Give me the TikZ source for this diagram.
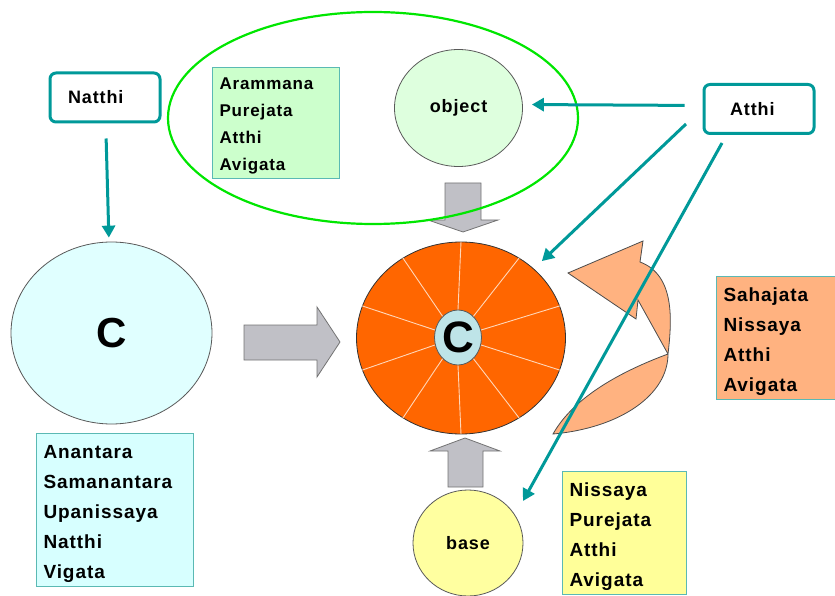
\documentclass[tikz,border=0pt]{standalone}
\usepackage{fontspec}
\setmainfont{Liberation Sans}[LetterSpace=5]
\usetikzlibrary{shapes.geometric,arrows.meta}
\definecolor{tealline}{RGB}{0,153,153}
\definecolor{ringgreen}{RGB}{0,230,0}
\definecolor{objfill}{RGB}{222,255,222}
\definecolor{greenbox}{RGB}{204,255,204}
\definecolor{boxline}{RGB}{90,185,180}
\definecolor{cyanfill}{RGB}{224,255,255}
\definecolor{cyanbox}{RGB}{215,255,255}
\definecolor{grayarrow}{RGB}{192,192,198}
\definecolor{wheelorange}{RGB}{255,102,0}
\definecolor{spoke}{RGB}{255,215,185}
\definecolor{corefill}{RGB}{190,228,232}
\definecolor{basefill}{RGB}{255,255,160}
\definecolor{yellowbox}{RGB}{255,255,153}
\definecolor{peach}{RGB}{255,178,128}
\tikzset{
  labelbox/.style={draw=tealline,line width=3pt,rounded corners=6pt,fill=white,
    minimum width=110pt,minimum height=49pt,text width=86pt,align=left,
    font=\fontsize{18}{22}\selectfont\bfseries},
  blob/.style={ellipse,draw=black!65,line width=0.8pt,inner sep=0pt},
  listbox/.style={draw=boxline,line width=1pt,anchor=north west,align=left,
    inner xsep=7pt,font=\fontsize{19}{30}\selectfont\bfseries,
    execute at begin node={\rule{0pt}{#1}}},
  listbox/.default=22pt,
  link/.style={draw=tealline,line width=3pt,-{Triangle[length=12pt,width=13pt]}},
  block/.style={fill=grayarrow,draw=black!55,line width=0.8pt},
}
\begin{document}
\begin{tikzpicture}[x=1pt,y=-1pt]
  \useasboundingbox (0,0) rectangle (835,596);
  % top: the object and its ring
  \node[listbox=18pt,fill=greenbox,text width=113pt,minimum height=111pt,
    font=\fontsize{17}{27}\selectfont\bfseries] (listobj) at (212,67)
    {Arammana\\Purejata\\Atthi\\Avigata};
  \node[blob,fill=objfill,minimum width=128pt,minimum height=117pt,
    font=\fontsize{18}{20}\selectfont\bfseries] (obj) at (458.5,108) {object};
  \filldraw[block] (445,183)--(481,183)--(481,220)--(498,220)--(463,232)--(428,220)--(445,220)--cycle;
  \draw[ringgreen,line width=2.2pt] (373,118) ellipse (205 and 106);
  \node[labelbox] (natthi) at (105,97.5) {\hspace*{6pt}Natthi};
  \node[labelbox] (atthi) at (759,109) {\hspace*{14pt}Atthi};
  % left: the previous citta
  \node[blob,fill=cyanfill,minimum width=201pt,minimum height=182pt,
    font=\fontsize{42}{42}\selectfont\bfseries] (cleft) at (111.5,333) {C};
  \node[listbox,fill=cyanbox,text width=143pt,minimum height=153pt] (listc) at (36,433)
    {Anantara\\Samanantara\\Upanissaya\\Natthi\\Vigata};
  \filldraw[block] (244,325)--(317,325)--(317,307)--(340,342)--(317,377)--(317,360)--(244,360)--cycle;
  % centre: the wheel
  \node[blob,fill=wheelorange,draw=black!80,minimum width=209pt,minimum height=192pt] (wheel) at (461,338) {};
  \node[blob,fill=corefill,minimum width=47pt,minimum height=55pt,
    font=\fontsize{44}{44}\selectfont\bfseries] (core) at (458,337.5) {C};
  \foreach \a in {18,54,...,342}
    \draw[spoke,line width=0.9pt] (core.\a) -- (wheel.\a);
  % bottom: the base
  \filldraw[block] (448,487)--(448,451)--(430,451)--(465,438)--(500,451)--(483,451)--(483,487)--cycle;
  \node[blob,fill=basefill,minimum width=110pt,minimum height=106pt,
    font=\fontsize{18}{20}\selectfont\bfseries] (base) at (468,543) {base};
  \node[listbox,fill=yellowbox,text width=110pt,minimum height=121pt] (listbase) at (562,471)
    {Nissaya\\Purejata\\Atthi\\Avigata};
  % right: the turning arrow
  \filldraw[fill=peach,draw=black!70,line width=0.8pt]
    (568,273) -- (643,241) -- (640,262)
    .. controls (675,275) and (672,320) .. (668,354)
    .. controls (668,395) and (620,428) .. (553,434)
    .. controls (575,395) and (625,370) .. (668,354)
    -- (638,300) -- (636,319) -- cycle;
  \node[listbox,fill=peach,text width=111pt,minimum height=122pt] (listwheel) at (716,276)
    {Sahajata\\Nissaya\\Atthi\\Avigata};
  % connectors
  \coordinate (from2) at (686,124);
  \coordinate (from3) at (722,143);
  \coordinate (to3) at (523,501);
  \draw[link,shorten <=15pt,shorten >=4pt] (natthi) -- (cleft);
  \draw[link,shorten <=18pt,shorten >=9pt] ([yshift=3.5pt]atthi.west) -- ([yshift=3.5pt]obj.east);
  \draw[link,shorten >=11pt] (from2) -- (wheel);
  \draw[link] (from3) -- (to3);
\end{tikzpicture}
\end{document}
